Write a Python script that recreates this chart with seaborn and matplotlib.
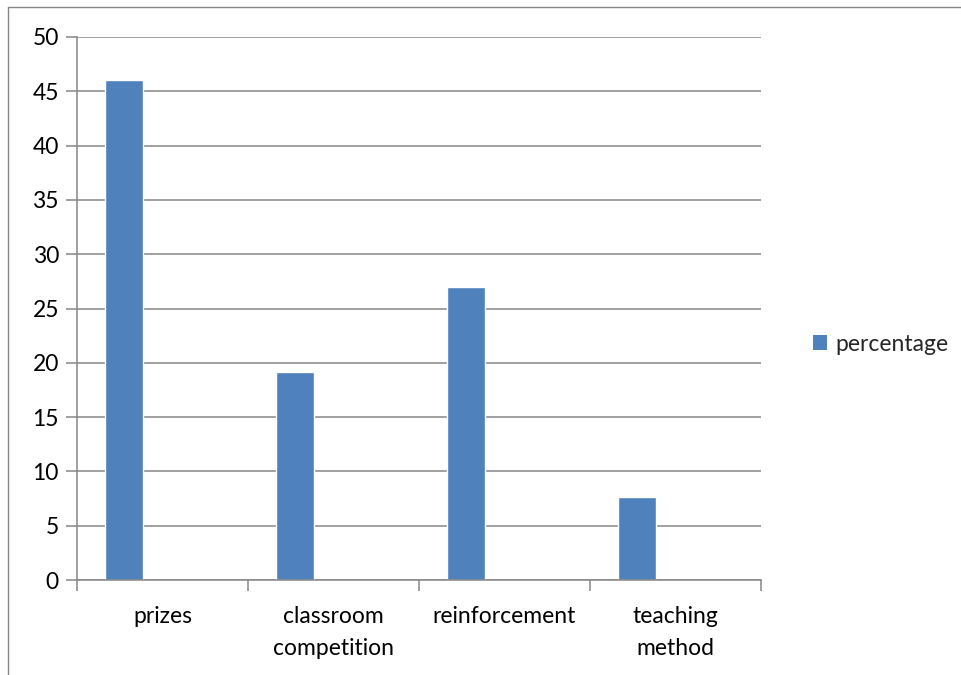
import matplotlib
matplotlib.use("Agg")
import matplotlib.pyplot as plt
import seaborn as sns
import pandas as pd
import numpy as np
from matplotlib.patches import Patch
from matplotlib.lines import Line2D
from matplotlib.ticker import FixedLocator

categories = ["prizes", "classroom\ncompetition", "reinforcement", "teaching\nmethod"]
percentage = [46.0, 19.2, 27.0, 7.6]
series_name = "percentage"
# Excel-style cluster with two empty series slots (only first series visible)
empty_series = ["_s2", "_s3"]
yticks = [0, 5, 10, 15, 20, 25, 30, 35, 40, 45, 50]

bar_color = "#4F81BD"
grid_color = "#868686"
fs = 16.5

sns.set_theme(style="white")
plt.rcParams["font.family"] = ["Lato", "DejaVu Sans"]

rows = [{"category": c, "series": series_name, "value": v} for c, v in zip(categories, percentage)]
df = pd.DataFrame(rows)

fig = plt.figure(figsize=(9.61, 6.75), dpi=100)
ax = fig.add_axes([0.0801, 0.1407, 0.7115, 0.8045])

sns.barplot(data=df, x="category", y="value", hue="series",
            hue_order=[series_name] + empty_series, order=categories,
            palette=[bar_color, bar_color, bar_color], width=0.667, gap=0,
            dodge=True, legend=False, ax=ax, saturation=1, err_kws={"linewidth": 0})

ax.set_xlim(-0.5, len(categories) - 0.5)
ax.set_ylim(0, 50)
ax.set_yticks(yticks)
ax.set_yticklabels([str(t) for t in yticks])
ax.yaxis.grid(True, color=grid_color, linewidth=1.1)
ax.set_axisbelow(True)
ax.set_xlabel("")
ax.set_ylabel("")

# ticks at category boundaries, labels at centres
n = len(categories)
ax.xaxis.set_major_locator(FixedLocator(np.arange(-0.5, n, 1.0)))
ax.set_xticklabels([])
ax.xaxis.set_minor_locator(FixedLocator(np.arange(n)))
ax.set_xticklabels(categories, minor=True, linespacing=1.6)
ax.tick_params(axis="x", which="major", length=8, width=1.1, color=grid_color, direction="out", bottom=True)
ax.tick_params(axis="x", which="minor", length=0, pad=19, labelsize=fs, labelcolor="black", bottom=True)
ax.tick_params(axis="y", length=8, width=1.1, color=grid_color, direction="out", pad=5, labelsize=fs, labelcolor="black", left=True)

for side in ["top", "right"]:
    ax.spines[side].set_visible(False)
for side in ["left", "bottom"]:
    ax.spines[side].set_color(grid_color)
    ax.spines[side].set_linewidth(1.1)

handles = [Patch(facecolor=bar_color, edgecolor="none", label=series_name)]
fig.legend(handles=handles, loc="center left", bbox_to_anchor=(0.834, 0.49),
           frameon=False, fontsize=fs, handlelength=0.6, handleheight=0.6,
           handletextpad=0.4, borderpad=0)

# outer chart border (left and top)
fig.add_artist(Line2D([8/961, 8/961], [0, 1 - 7/675], transform=fig.transFigure, color=grid_color, linewidth=1))
fig.add_artist(Line2D([8/961, 1], [1 - 7/675, 1 - 7/675], transform=fig.transFigure, color=grid_color, linewidth=1))

fig.savefig("out.png", dpi=100)
